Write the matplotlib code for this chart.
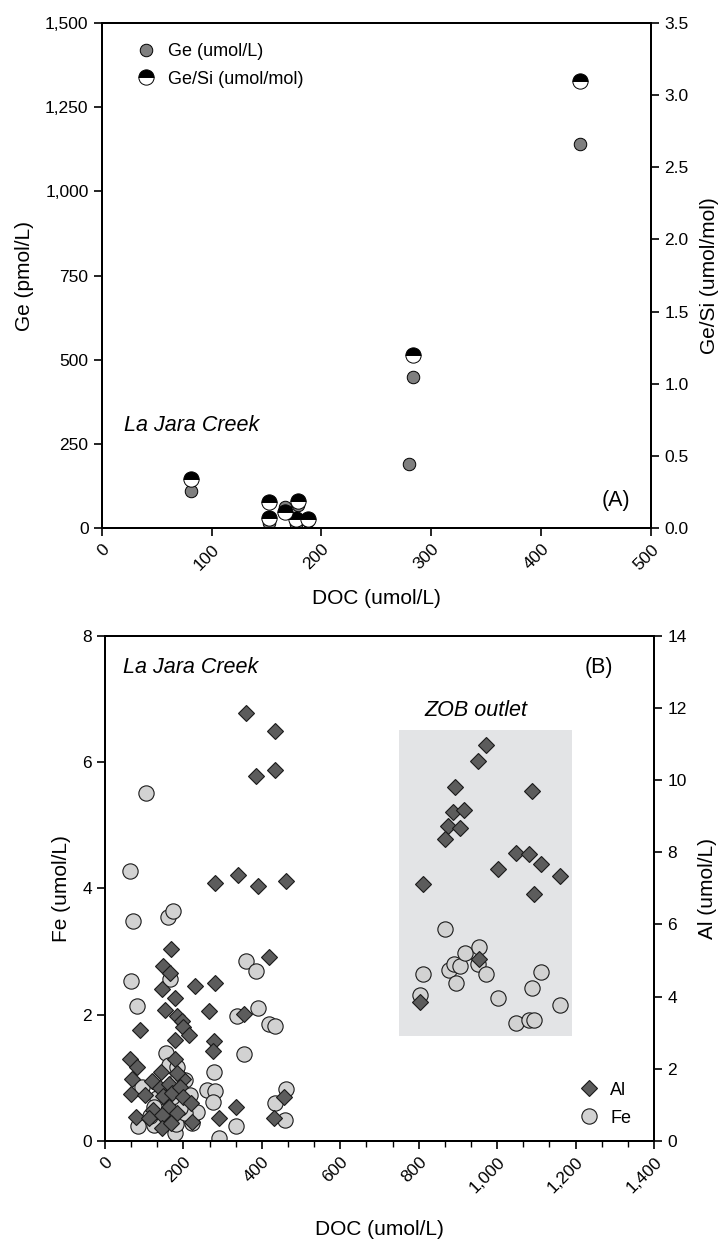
import matplotlib.pyplot as plt
from matplotlib.patches import Rectangle
from matplotlib.ticker import FuncFormatter, MultipleLocator, AutoMinorLocator

plt.rcParams['font.family'] = ['Liberation Sans', 'DejaVu Sans']

# ---- panel A: Ge and Ge/Si vs DOC ----
ge_doc = [81, 152, 167, 179, 177, 188, 280, 283, 435]
ge_pmol = [110, 15, 63, 68, 12, 22, 192, 450, 1140]

gesi_doc = [81, 152, 152, 167, 179, 177, 188, 283, 435]
gesi_ratio = [0.34, 0.18, 0.07, 0.11, 0.19, 0.065, 0.065, 1.20, 3.10]

# ---- panel B: Fe and Al vs DOC ----
fe_doc = [105, 65, 71, 160, 174, 67, 81, 166, 359, 385, 391, 337, 418, 434,
          355, 155, 279, 259, 281, 276, 334, 291, 83, 126, 179, 181, 221, 234,
          204, 217, 164, 183, 187, 94, 132, 125, 191, 204, 170, 115, 434, 461,
          459,
          867, 812, 804, 876, 890, 906, 917, 953, 952, 972, 895, 1002, 1112,
          1088, 1161, 1048, 1080, 1094]
fe_umol = [5.51, 4.27, 3.48, 3.55, 3.64, 2.53, 2.14, 2.57, 2.85, 2.69, 2.10,
           1.98, 1.85, 1.82, 1.37, 1.40, 1.10, 0.81, 0.79, 0.61, 0.23, 0.04,
           0.23, 0.25, 0.12, 0.27, 0.28, 0.46, 0.44, 0.73, 1.20, 1.17, 1.01,
           0.86, 0.68, 0.54, 0.52, 0.96, 0.70, 0.40, 0.60, 0.83, 0.34,
           3.36, 2.65, 2.31, 2.71, 2.80, 2.77, 2.98, 3.07, 2.81, 2.64, 2.50,
           2.26, 2.68, 2.42, 2.16, 1.87, 1.91, 1.92]

al_doc = [359, 434, 434, 386, 280, 339, 391, 461, 168, 419, 147, 166, 145, 230,
          281, 178, 154, 264, 183, 196, 200, 215, 354, 89, 179, 279, 276, 63,
          179, 82, 70, 66, 142, 121, 102, 140, 162, 198, 183, 149, 170, 191,
          198, 162, 219, 123, 183, 79, 113, 145, 221, 145, 168, 291, 333, 431,
          457,
          972, 952, 892, 1088, 887, 916, 874, 906, 867, 1048, 1082, 1112, 1003,
          1161, 812, 1094, 954, 804]
al_umol = [11.87, 11.35, 10.29, 10.11, 7.16, 7.38, 7.06, 7.19, 5.31, 5.10,
           4.85, 4.66, 4.20, 4.30, 4.39, 3.95, 3.62, 3.60, 3.46, 3.32, 3.15,
           2.93, 3.51, 3.07, 2.81, 2.78, 2.49, 2.26, 2.26, 2.06, 1.73, 1.29,
           1.92, 1.67, 1.27, 1.46, 1.58, 1.73, 1.89, 1.25, 1.34, 1.49, 1.23,
           0.95, 1.06, 0.86, 0.77, 0.67, 0.63, 0.72, 0.53, 0.35, 0.51, 0.63,
           0.95, 0.65, 1.21,
           10.98, 10.54, 9.80, 9.71, 9.11, 9.18, 8.74, 8.68, 8.37, 7.98, 7.94,
           7.67, 7.53, 7.33, 7.13, 6.85, 5.03, 3.84]

# ZOB outlet shaded box (DOC range, Fe range)
zob_doc = (750, 1190)
zob_fe = (1.67, 6.5)

tick_fs = 12.5
label_fs = 15
note_fs = 15.5
lw = 1.4

fig = plt.figure(figsize=(7.18, 12.42), dpi=100)
ax_a = fig.add_axes([0.1418, 0.5746, 0.7649, 0.4071])
ax_a2 = ax_a.twinx()
ax_b = fig.add_axes([0.1462, 0.0813, 0.7647, 0.4069])
ax_b2 = ax_b.twinx()

comma = FuncFormatter(lambda v, p: '{:,.0f}'.format(v))

for ax in (ax_a, ax_a2, ax_b, ax_b2):
    for s in ax.spines.values():
        s.set_linewidth(lw)
    ax.tick_params(direction='out', length=6, width=1.2, labelsize=tick_fs)

# panel A
ax_a.plot(ge_doc, ge_pmol, 'o', color='#7f7f7f', markeredgecolor='k',
          markeredgewidth=0.7, markersize=9, label='Ge (umol/L)')
ax_a2.plot(gesi_doc, gesi_ratio, 'o', fillstyle='top', markerfacecolor='k',
           markerfacecoloralt='white', markeredgecolor='k',
           markeredgewidth=0.7, markersize=11, label='Ge/Si (umol/mol)')

ax_a.set_xlim(0, 500)
ax_a.set_ylim(0, 1500)
ax_a2.set_ylim(0, 3.5)
ax_a.xaxis.set_major_locator(MultipleLocator(100))
ax_a.yaxis.set_major_locator(MultipleLocator(250))
ax_a.yaxis.set_major_formatter(comma)
ax_a2.yaxis.set_major_locator(MultipleLocator(0.5))
ax_a2.yaxis.set_major_formatter(FuncFormatter(lambda v, p: '{:.1f}'.format(v)))
ax_a.set_ylabel('Ge (pmol/L)', fontsize=label_fs, labelpad=8)
ax_a2.set_ylabel('Ge/Si (umol/mol)', fontsize=label_fs, labelpad=8)
ax_a.set_xlabel('DOC (umol/L)', fontsize=label_fs, labelpad=12)

ax_a.text(20, 306, 'La Jara Creek', fontsize=note_fs, style='italic', va='center')
ax_a.text(481, 84, '(A)', fontsize=note_fs, ha='right', va='center')

h1, l1 = ax_a.get_legend_handles_labels()
h2, l2 = ax_a2.get_legend_handles_labels()
ax_a2.legend(h1 + h2, l1 + l2, loc='upper left', frameon=False,
             fontsize=13, handletextpad=0.2, labelspacing=0.6,
             borderaxespad=0.3, bbox_to_anchor=(0.025, 0.985))

# panel B
ax_b.add_patch(Rectangle((zob_doc[0], zob_fe[0]), zob_doc[1] - zob_doc[0],
                         zob_fe[1] - zob_fe[0], facecolor='#e3e4e6',
                         edgecolor='none', zorder=0))
ax_b.plot(fe_doc, fe_umol, 'o', color='#d2d2d2', markeredgecolor='#1a1a1a',
          markeredgewidth=0.8, markersize=11, label='Fe')
ax_b2.plot(al_doc, al_umol, 'D', color='#5c5c5c', markeredgecolor='#1a1a1a',
           markeredgewidth=0.8, markersize=8.5, label='Al')

ax_b.set_xlim(0, 1400)
ax_b.set_ylim(0, 8)
ax_b2.set_ylim(0, 14)
ax_b.xaxis.set_major_locator(MultipleLocator(200))
ax_b.xaxis.set_minor_locator(AutoMinorLocator(3))
ax_b.xaxis.set_major_formatter(comma)
ax_b.yaxis.set_major_locator(MultipleLocator(2))
ax_b2.yaxis.set_major_locator(MultipleLocator(2))
ax_b.tick_params(axis='x', which='minor', direction='out', length=4, width=1.0)
ax_b.set_ylabel('Fe (umol/L)', fontsize=label_fs, labelpad=8)
ax_b2.set_ylabel('Al (umol/L)', fontsize=label_fs, labelpad=8)
ax_b.set_xlabel('DOC (umol/L)', fontsize=label_fs, labelpad=18)

ax_b.text(46, 7.5, 'La Jara Creek', fontsize=note_fs, style='italic', va='center')
ax_b.text(1296, 7.5, '(B)', fontsize=note_fs, ha='right', va='center')
ax_b.text(947, 6.82, 'ZOB outlet', fontsize=note_fs, style='italic',
          ha='center', va='center')

hb1, lb1 = ax_b2.get_legend_handles_labels()
hb2, lb2 = ax_b.get_legend_handles_labels()
ax_b2.legend(hb1 + hb2, lb1 + lb2, loc='lower right', frameon=False,
             fontsize=13, handletextpad=0.2, labelspacing=0.6,
             borderaxespad=0.4, bbox_to_anchor=(0.985, 0.0))

for ax in (ax_a, ax_b):
    for lab in ax.get_xticklabels():
        lab.set_rotation(45)
        lab.set_ha('right')
        lab.set_va('top')
        lab.set_rotation_mode('anchor')

fig.savefig('out.png', dpi=100)
